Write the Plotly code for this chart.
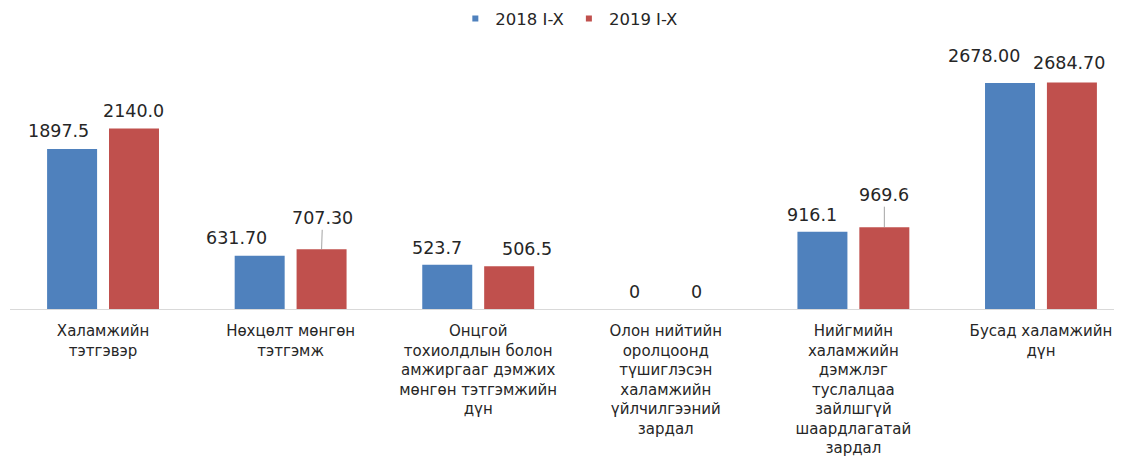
import plotly.graph_objects as go

categories = [
    "Халамжийн<br>тэтгэвэр",
    "Нөхцөлт мөнгөн<br>тэтгэмж",
    "Онцгой<br>тохиолдлын болон<br>амжиргааг дэмжих<br>мөнгөн тэтгэмжийн<br>дүн",
    "Олон нийтийн<br>оролцоонд<br>түшиглэсэн<br>халамжийн<br>үйлчилгээний<br>зардал",
    "Нийгмийн<br>халамжийн<br>дэмжлэг<br>туслалцаа<br>зайлшгүй<br>шаардлагатай<br>зардал",
    "Бусад халамжийн<br>дүн",
]
series_names = ["2018 I-X", "2019 I-X"]
values_2018 = [1897.5, 631.70, 523.7, 0, 916.1, 2678.00]
values_2019 = [2140.0, 707.30, 506.5, 0, 969.6, 2684.70]
decimals_2018 = [1, 2, 1, 0, 1, 2]
decimals_2019 = [1, 2, 1, 0, 1, 2]

# style
colors = ["#4F81BD", "#C0504D"]
text_color = "#262626"
font_family = "DejaVu Sans"
bar_w = 0.2665
half_gap = 0.165
label_offsets_2018 = [(-14, 18), (-23, 18), (-10, 17), (0, 17), (-10, 17), (-26, 27)]
label_offsets_2019 = [(0, 17), (1, 31), (18, 17), (0, 17), (0, 32), (-3, 19)]
leader_2019 = [False, True, False, False, True, False]

xs = list(range(len(categories)))
fig = go.Figure()
for name, vals, col, sign in [(series_names[0], values_2018, colors[0], -1),
                               (series_names[1], values_2019, colors[1], 1)]:
    fig.add_trace(go.Bar(
        x=xs, y=vals, name=name, marker=dict(color=col, line=dict(width=0)),
        width=bar_w, offset=sign * half_gap - bar_w / 2, showlegend=False,
        hoverinfo="skip",
    ))
    fig.add_trace(go.Scatter(
        x=[None], y=[None], mode="markers", name=name,
        marker=dict(symbol="square", size=6, color=col),
    ))

annotations = []
for vals, decs, offs, sign, leaders in [
    (values_2018, decimals_2018, label_offsets_2018, -1, [False] * 6),
    (values_2019, decimals_2019, label_offsets_2019, 1, leader_2019),
]:
    for i, (v, d, (dx, dy), ld) in enumerate(zip(vals, decs, offs, leaders)):
        txt = f"{v:.{d}f}"
        if ld:
            annotations.append(dict(
                x=i + sign * half_gap, y=v, text=txt, showarrow=True,
                ax=dx, ay=-dy, arrowhead=0, arrowwidth=0.8, arrowcolor="#8C8C8C",
                standoff=0, font=dict(size=17.5, color=text_color, family=font_family),
            ))
        else:
            annotations.append(dict(
                x=i + sign * half_gap, y=v, text=txt, showarrow=False,
                xshift=dx, yshift=dy,
                font=dict(size=17.5, color=text_color, family=font_family),
            ))

# page body has an 8px default margin; figure sized/offset to compensate
fig.update_layout(
    width=1114, height=449,
    margin=dict(l=2, r=0, t=32, b=146),
    paper_bgcolor="white", plot_bgcolor="white",
    barmode="overlay",
    font=dict(family=font_family, color=text_color),
    showlegend=True,
    legend=dict(orientation="h", x=0.503, xanchor="center", yref="container",
                y=0.976, yanchor="middle", font=dict(size=16.5, color=text_color),
                itemwidth=30, tracegroupgap=0, bgcolor="rgba(0,0,0,0)"),
    xaxis=dict(tickmode="array", tickvals=xs, ticktext=categories,
               range=[-0.496, 5.432], showline=True, linecolor="#D9D9D9",
               linewidth=1, ticks="", showgrid=False, zeroline=False,
               tickfont=dict(size=15, color=text_color, family=font_family),
               tickangle=0, ticklabelstandoff=8, fixedrange=True),
    yaxis=dict(range=[0, 3188], visible=False, fixedrange=True),
    annotations=annotations,
)

fig.write_html("out.html")
